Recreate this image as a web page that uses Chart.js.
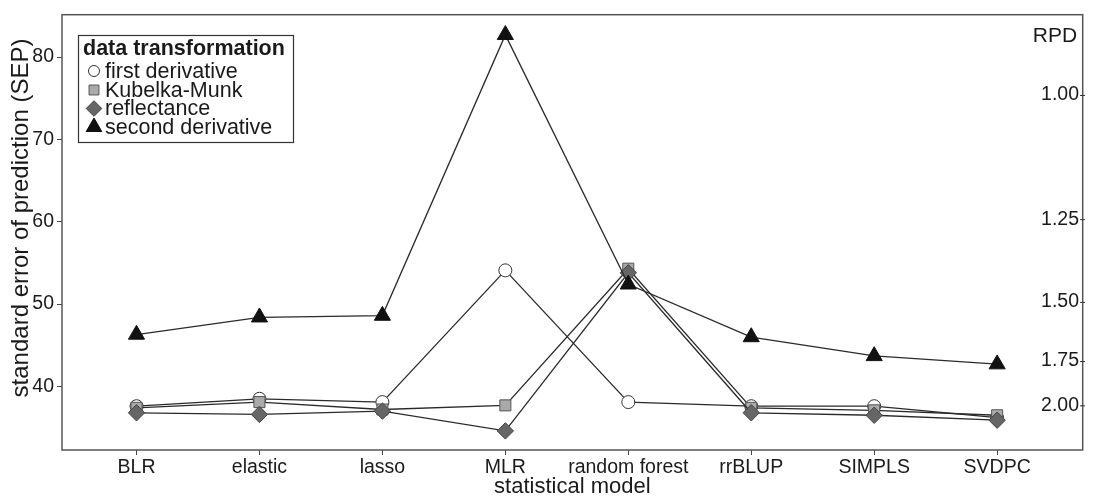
<!DOCTYPE html>
<html>
<head>
<meta charset="utf-8">
<script src="https://cdn.jsdelivr.net/npm/chart.js@4.4.1/dist/chart.umd.min.js"></script>
<style>
html,body{margin:0;padding:0;background:#fff;overflow:hidden;}
canvas{display:block;}
</style>
</head>
<body>
<canvas id="c" width="1093" height="499"></canvas>
<script>
// ---- data ----
const categories = ["BLR", "elastic", "lasso", "MLR", "random forest", "rrBLUP", "SIMPLS", "SVDPC"];
const firstDerivative  = [37.6, 38.5, 38.1, 54.1, 38.1, 37.6, 37.6, 36.2];
const kubelkaMunk      = [37.4, 38.1, 37.2, 37.7, 54.3, 37.4, 37.1, 36.5];
const reflectance      = [36.8, 36.6, 37.0, 34.6, 53.8, 36.8, 36.5, 35.9];
const secondDerivative = [46.3, 48.4, 48.6, 82.7, 52.4, 46.0, 43.7, 42.7];
const sepTicks = [40, 50, 60, 70, 80];
const rpdTicks = [1.00, 1.25, 1.50, 1.75, 2.00];
const referenceSD = 75.4; // RPD = SD / SEP
const legendTitle = "data transformation";
const seriesNames = ["first derivative", "Kubelka-Munk", "reflectance", "second derivative"];

const FONT = '"Liberation Sans", Arial, Helvetica, sans-serif';
const TXT = '#1a1a1a';

function pts(arr){ return arr.map((v,i)=>({x:i, y:v})); }

const styles = [
  {pointStyle:'circle',   radius:6.5, bg:'#ffffff', bc:'#333333', lr:5.5},
  {pointStyle:'rect',     radius:7.8, bg:'#aaaaaa', bc:'#555555', lr:7},
  {pointStyle:'rectRot',  radius:8.2, bg:'#666666', bc:'#444444', lr:7.8},
  {pointStyle:'triangle', radius:9.3, bg:'#111111', bc:'#111111', lr:9}
];
const seriesData = [firstDerivative, kubelkaMunk, reflectance, secondDerivative];

const datasets = seriesData.map((arr, k) => ({
  label: seriesNames[k],
  data: pts(arr),
  borderColor: '#2a2a2a',
  borderWidth: 1.3,
  pointStyle: styles[k].pointStyle,
  pointRadius: styles[k].radius,
  pointHoverRadius: styles[k].radius,
  pointBackgroundColor: styles[k].bg,
  pointBorderColor: styles[k].bc,
  pointBorderWidth: 1,
  fill: false,
  tension: 0,
  order: 4 - k
}));

const decorPlugin = {
  id: 'decor',
  afterDraw(chart) {
    const ctx = chart.ctx;
    const a = chart.chartArea;
    const y = chart.scales.y;
    ctx.save();
    // plot frame
    ctx.strokeStyle = '#555555';
    ctx.lineWidth = 1.5;
    ctx.strokeRect(a.left, a.top, a.right - a.left, a.bottom - a.top);

    // right RPD axis (inside)
    ctx.fillStyle = TXT;
    ctx.font = '19.5px ' + FONT;
    ctx.textAlign = 'right';
    ctx.textBaseline = 'middle';
    ctx.strokeStyle = '#333333';
    ctx.lineWidth = 1;
    rpdTicks.forEach(r => {
      const py = y.getPixelForValue(referenceSD / r);
      ctx.fillText(r.toFixed(2), 1079, py);
      ctx.beginPath();
      ctx.moveTo(1080, py + 0.5);
      ctx.lineTo(1085, py + 0.5);
      ctx.stroke();
    });
    ctx.font = '21px ' + FONT;
    ctx.textAlign = 'center';
    ctx.fillText('RPD', 1055, 36);

    // axis titles
    ctx.font = '22px ' + FONT;
    ctx.textAlign = 'center';
    ctx.textBaseline = 'middle';
    ctx.fillText('statistical model', (a.left + a.right) / 2, 487);
    ctx.save();
    ctx.font = '24px ' + FONT;
    ctx.translate(21, 218);
    ctx.rotate(-Math.PI / 2);
    ctx.fillText('standard error of prediction (SEP)', 0, 0);
    ctx.restore();

    // legend
    ctx.fillStyle = '#ffffff';
    ctx.fillRect(78, 35, 215, 107);
    ctx.strokeStyle = '#333333';
    ctx.lineWidth = 1.2;
    ctx.strokeRect(78.5, 35.5, 215, 107);
    ctx.fillStyle = TXT;
    ctx.textAlign = 'left';
    ctx.font = 'bold 21.5px ' + FONT;
    ctx.fillText(legendTitle, 83, 49);
    ctx.font = '21.5px ' + FONT;
    const rows = [71, 90, 108.5, 127];
    seriesNames.forEach((n, k) => {
      const st = styles[k];
      ctx.fillStyle = st.bg;
      ctx.strokeStyle = st.bc;
      ctx.lineWidth = 1;
      Chart.helpers.drawPoint(ctx, {pointStyle: st.pointStyle, radius: st.lr, rotation: 0, borderWidth: 1}, 94, rows[k]);
      ctx.fillStyle = TXT;
      ctx.fillText(n, 105, rows[k] + 1);
    });
    ctx.restore();
  }
};

new Chart(document.getElementById('c'), {
  type: 'line',
  data: { datasets },
  plugins: [decorPlugin],
  options: {
    responsive: false,
    animation: false,
    devicePixelRatio: 1,
    layout: { padding: { top: 9, right: 4, left: 0, bottom: 0 } },
    plugins: { legend: { display: false }, tooltip: { enabled: false } },
    scales: {
      x: {
        type: 'linear',
        min: -0.606,
        max: 7.696,
        afterBuildTicks: s => { s.ticks = categories.map((c, i) => ({ value: i })); },
        afterFit: s => { s.height = 49; },
        ticks: {
          autoSkip: false,
          maxRotation: 0,
          padding: 1,
          color: TXT,
          font: { family: FONT, size: 19.5 },
          callback: v => categories[v]
        },
        grid: { drawOnChartArea: false, drawTicks: true, tickLength: 5, color: '#444444' },
        border: { display: false }
      },
      y: {
        type: 'linear',
        min: 32.28,
        max: 85.15,
        afterBuildTicks: s => { s.ticks = sepTicks.map(v => ({ value: v })); },
        afterFit: s => { s.width = 62; },
        ticks: {
          padding: 3,
          color: TXT,
          font: { family: FONT, size: 19.5 },
          callback: v => String(v)
        },
        grid: { drawOnChartArea: false, drawTicks: true, tickLength: 5, color: '#444444' },
        border: { display: false }
      }
    }
  }
});
</script>
</body>
</html>
